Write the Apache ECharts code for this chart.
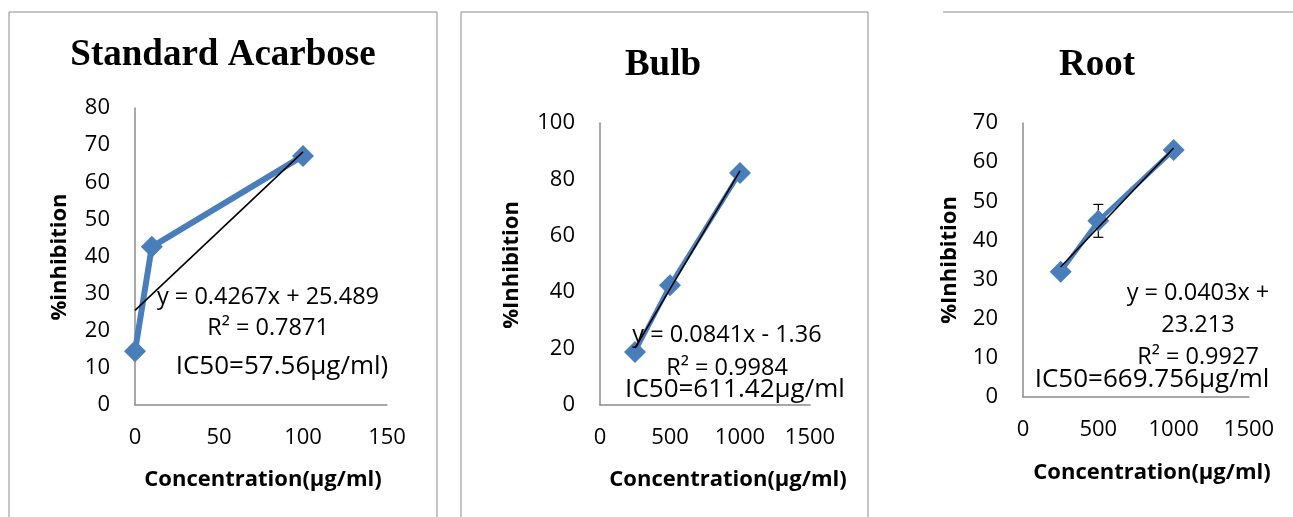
<!DOCTYPE html>
<html>
<head>
<meta charset="utf-8">
<script src="https://cdn.jsdelivr.net/npm/echarts@6/dist/echarts.min.js"></script>
<style>html,body{margin:0;padding:0;background:#fff;}#c{width:1293px;height:517px;}</style>
</head>
<body>
<div id="c"></div>
<script>
// ---- data ----
const titles = ['Standard Acarbose', 'Bulb', 'Root'];
const yNames = ['%inhibition', '%Inhibition', '%Inhibition'];
const xName = 'Concentration(µg/ml)';

const acarboseConc = [0, 10, 100];
const acarboseInhib = [14.5, 42.6, 67.1];
const acarboseTrend = [[0, 25.5], [100, 68.2]];

const bulbConc = [250, 500, 1000];
const bulbInhib = [18.8, 42.5, 82.3];
const bulbTrend = [[250, 20.2], [1000, 83.0]];

const rootConc = [250, 500, 1000];
const rootInhib = [32.0, 45.0, 63.1];
const rootErr = [1.0, 4.2, 0];
const rootTrend = [[250, 33.2], [1000, 63.6]];

const xTicks = [[0, 150, 50], [0, 1500, 500], [0, 1500, 500]];
const yTicks = [[0, 80, 10], [0, 100, 20], [0, 70, 10]];

const annotations = [
  ['y = 0.4267x + 25.489', 'R² = 0.7871', 'IC50=57.56µg/ml)'],
  ['y = 0.0841x - 1.36', 'R² = 0.9984', 'IC50=611.42µg/ml'],
  ['y = 0.0403x +', '23.213', 'R² = 0.9927', 'IC50=669.756µg/ml']
];

// ---- chart ----
const FONT = '"Open Sans", sans-serif';
const BLUE = '#4a7ebb';
const AXIS = '#8c8c8c';
const grids = [
  {left: 135, top: 108, width: 252, height: 297},
  {left: 600, top: 123, width: 210, height: 282},
  {left: 1023, top: 123, width: 226, height: 274}
];

function zip(a, b) { return a.map((v, i) => [v, b[i]]); }

const xAxes = xTicks.map((t, i) => ({
  type: 'value', gridIndex: i, min: t[0], max: t[1], interval: t[2],
  axisLine: {show: true, onZero: false, lineStyle: {color: AXIS, width: 1.5}},
  axisTick: {show: false}, splitLine: {show: false},
  axisLabel: {color: '#000', fontSize: 22, fontFamily: FONT, margin: 22, formatter: v => String(v)}
}));
const yAxes = yTicks.map((t, i) => ({
  type: 'value', gridIndex: i, min: t[0], max: t[1], interval: t[2],
  axisLine: {show: true, onZero: false, lineStyle: {color: AXIS, width: 1.5}},
  axisTick: {show: false}, splitLine: {show: false},
  axisLabel: {color: '#000', fontSize: 22, fontFamily: FONT, margin: 25, formatter: v => String(v)}
}));

const dataSets = [
  [acarboseConc, acarboseInhib, acarboseTrend, 6],
  [bulbConc, bulbInhib, bulbTrend, 4.5],
  [rootConc, rootInhib, rootTrend, 4.5]
];
const series = [];
dataSets.forEach((d, i) => {
  series.push({
    type: 'line', xAxisIndex: i, yAxisIndex: i, data: zip(d[0], d[1]),
    symbol: 'diamond', symbolSize: 22, showSymbol: true,
    lineStyle: {color: BLUE, width: d[3]}, itemStyle: {color: BLUE},
    z: 3, animation: false
  });
});
// error bars for Root (drawn behind the markers)
series.push({
  type: 'custom', xAxisIndex: 2, yAxisIndex: 2, z: 2, animation: false,
  data: rootConc.map((c, i) => [c, rootInhib[i] - rootErr[i], rootInhib[i] + rootErr[i], rootErr[i]]),
  renderItem: function (params, api) {
    if (!api.value(3)) return null;
    const lo = api.coord([api.value(0), api.value(1)]);
    const hi = api.coord([api.value(0), api.value(2)]);
    const w = 5;
    const st = {stroke: '#000', lineWidth: 1.2};
    return {type: 'group', children: [
      {type: 'line', shape: {x1: hi[0], y1: hi[1], x2: lo[0], y2: lo[1]}, style: st},
      {type: 'line', shape: {x1: hi[0] - w, y1: hi[1], x2: hi[0] + w, y2: hi[1]}, style: st},
      {type: 'line', shape: {x1: lo[0] - w, y1: lo[1], x2: lo[0] + w, y2: lo[1]}, style: st}
    ]};
  }
});
dataSets.forEach((d, i) => {
  series.push({
    type: 'line', xAxisIndex: i, yAxisIndex: i, data: d[2],
    symbol: 'none', lineStyle: {color: '#000', width: 1.6}, z: 5, animation: false
  });
});

// text layout (label positions only)
const titlePos = [[223, 55], [663, 65], [1097, 65]];
const yNamePos = [[60, 257], [512, 265], [950, 260]];
const xNamePos = [[263, 480], [728, 480], [1152, 473]];
const annPos = [
  [[268, 297, 23.5], [268, 328, 23.5], [282, 367, 26]],
  [[727, 335, 23.5], [727, 368, 23.5], [735, 390, 26]],
  [[1198, 293, 23.5], [1198, 325, 23.5], [1198, 357, 23.5], [1152, 380, 26]]
];

const graphic = [
  {type: 'rect', shape: {x: 9, y: 12, width: 428, height: 530}, style: {fill: 'none', stroke: '#8c8c8c', lineWidth: 1}, z: 0},
  {type: 'rect', shape: {x: 461, y: 12, width: 407, height: 530}, style: {fill: 'none', stroke: '#8c8c8c', lineWidth: 1}, z: 0},
  {type: 'line', shape: {x1: 943, y1: 12, x2: 1293, y2: 12}, style: {stroke: '#8c8c8c', lineWidth: 1}, z: 0}
];
titles.forEach((t, i) => graphic.push({
  type: 'text', x: titlePos[i][0], y: titlePos[i][1], z: 10,
  style: {text: t, fill: '#000', font: 'bold 37px "Liberation Serif", serif', textAlign: 'center', textVerticalAlign: 'middle'}
}));
yNames.forEach((t, i) => graphic.push({
  type: 'text', x: yNamePos[i][0], y: yNamePos[i][1], rotation: Math.PI / 2, z: 10,
  style: {text: t, fill: '#000', font: 'bold 22px ' + FONT, textAlign: 'center', textVerticalAlign: 'middle'}
}));
xNamePos.forEach((p) => graphic.push({
  type: 'text', x: p[0], y: p[1], z: 10,
  style: {text: xName, fill: '#000', font: 'bold 22px ' + FONT, textAlign: 'center', textVerticalAlign: 'middle'}
}));
annotations.forEach((lines, i) => lines.forEach((t, j) => graphic.push({
  type: 'text', x: annPos[i][j][0], y: annPos[i][j][1], z: 10,
  style: {text: t, fill: '#000', font: annPos[i][j][2] + 'px ' + FONT, textAlign: 'center', textVerticalAlign: 'middle'}
})));

const chart = echarts.init(document.getElementById('c'), null, {renderer: 'canvas'});
chart.setOption({
  animation: false,
  backgroundColor: '#fff',
  grid: grids,
  xAxis: xAxes,
  yAxis: yAxes,
  series: series,
  graphic: graphic
});
</script>
</body>
</html>
